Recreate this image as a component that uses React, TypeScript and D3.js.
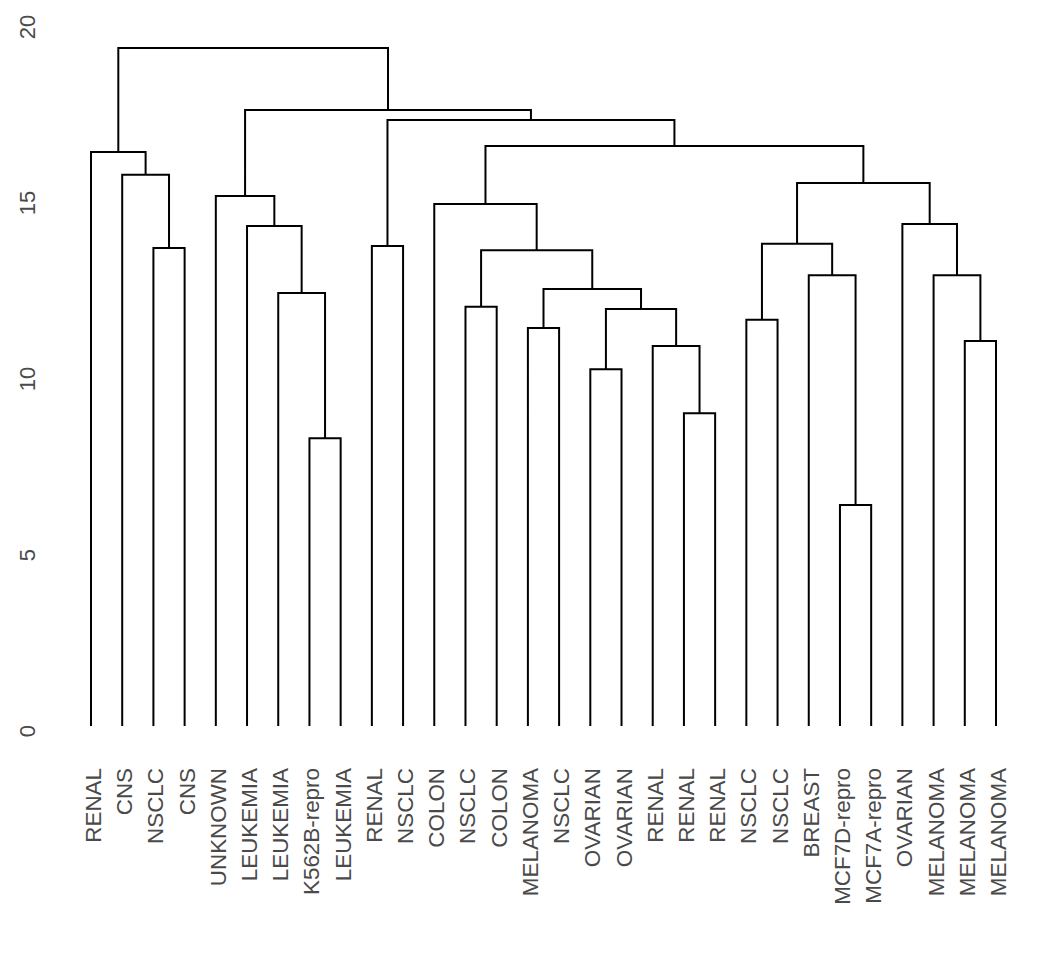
import React from "react";
import * as d3 from "d3";

// Leaf labels in dendrogram order
const leafLabels: string[] = [
  "RENAL", "CNS", "NSCLC", "CNS", "UNKNOWN", "LEUKEMIA", "LEUKEMIA", "K562B-repro", "LEUKEMIA",
  "RENAL", "NSCLC", "COLON", "NSCLC", "COLON", "MELANOMA", "NSCLC", "OVARIAN", "OVARIAN",
  "RENAL", "RENAL", "RENAL", "NSCLC", "NSCLC", "BREAST", "MCF7D-repro", "MCF7A-repro",
  "OVARIAN", "MELANOMA", "MELANOMA", "MELANOMA",
];

// hclust-style merge table: negative = leaf (1-based), positive = earlier merge row (1-based)
const mergeLeft: number[] = [
  -25, -8, -20, -17, -19, -29, -15, -22, 4, -13, -7, 7, -24, -28, 10,
  -3, -10, 8, -6, -27, -12, -5, 18, -2, -1, 21, 17, 22, 25,
];
const mergeRight: number[] = [
  -26, -9, -21, -18, 3, -30, -16, -23, 5, -14, 2, 9, 1, 6, 12,
  -4, -11, 13, 11, 14, 15, 19, 20, 16, 24, 23, 26, 27, 28,
];
const mergeHeight: number[] = [
  6.42, 8.32, 9.03, 10.28, 10.94, 11.08, 11.45, 11.68, 11.99, 12.05, 12.44, 12.56, 12.95, 12.95, 13.66,
  13.72, 13.78, 13.84, 14.35, 14.40, 14.97, 15.20, 15.57, 15.80, 16.45, 16.62, 17.36, 17.64, 19.40,
];

const yTicks: number[] = [0, 5, 10, 15, 20];
const leafBaseValue = 0.17;

const W = 1056;
const H = 960;

type Node = { x: number; h: number; left?: Node; right?: Node };

export default function App() {
  const x = d3.scalePoint<number>().domain(d3.range(leafLabels.length)).range([91, 996]);
  const y = d3.scaleLinear().domain([0, 20]).range([731, 27]);

  const nodes: Node[] = [];
  const get = (id: number): Node => {
    if (id < 0) return { x: x(-id - 1)!, h: leafBaseValue };
    return nodes[id - 1];
  };
  mergeHeight.forEach((h, i) => {
    const l = get(mergeLeft[i]);
    const r = get(mergeRight[i]);
    nodes.push({ x: (l.x + r.x) / 2, h, left: l, right: r });
  });

  const path = d3.path();
  nodes.forEach((n) => {
    const l = n.left!, r = n.right!;
    path.moveTo(l.x, y(l.h));
    path.lineTo(l.x, y(n.h));
    path.lineTo(r.x, y(n.h));
    path.lineTo(r.x, y(r.h));
  });

  const font = "'Liberation Sans', Arial, Helvetica, sans-serif";
  const textColor = "#4a4a4a";

  return (
    <svg width={W} height={H} style={{ position: "absolute", left: 0, top: 0, background: "#fff" }}>
      <rect width={W} height={H} fill="#fff" />
      <path d={path.toString()} fill="none" stroke="#000" strokeWidth={2} strokeLinecap="square" strokeLinejoin="miter" />
      {yTicks.map((t) => (
        <text
          key={t}
          transform={`translate(35,${y(t)}) rotate(-90)`}
          textAnchor="middle"
          fontFamily={font}
          fontSize={22}
          fill={textColor}
        >
          {t}
        </text>
      ))}
      {leafLabels.map((lab, i) => (
        <text
          key={i}
          transform={`translate(${x(i)},768) rotate(-90)`}
          y={10}
          textAnchor="end"
          fontFamily={font}
          fontSize={22.4}
          fill={textColor}
        >
          {lab}
        </text>
      ))}
    </svg>
  );
}
